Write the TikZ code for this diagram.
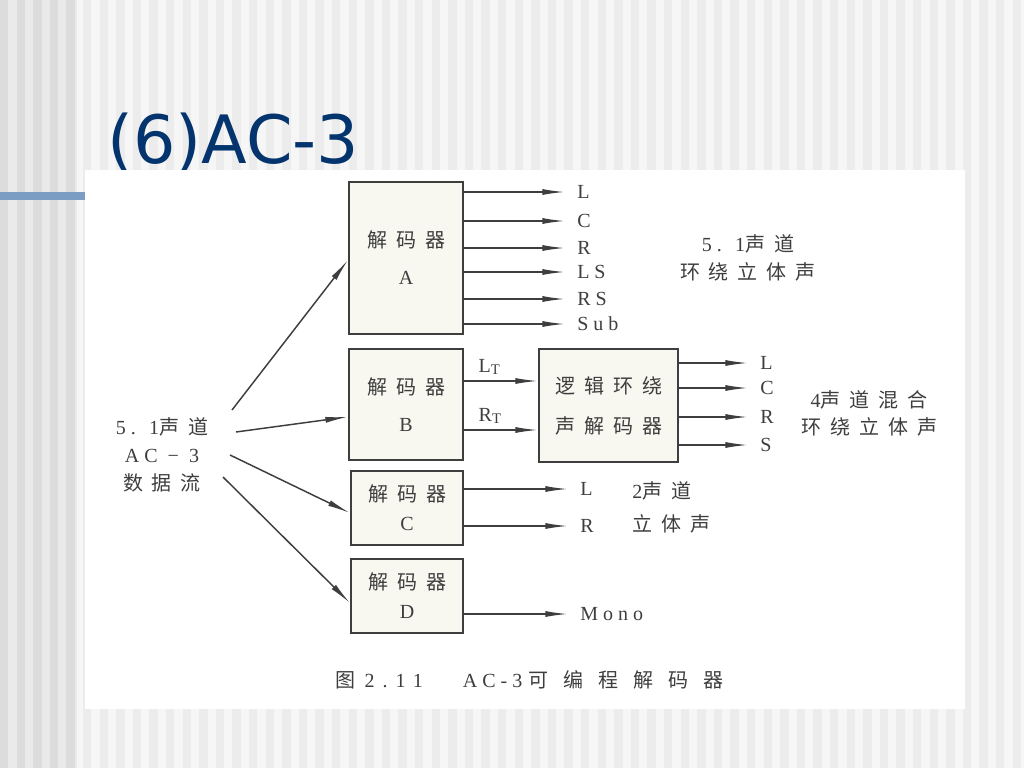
\documentclass[tikz,border=0pt]{standalone}
\usepackage{fontspec}
\usepackage{xcolor}
\usetikzlibrary{arrows.meta,calc}
\setmainfont{Liberation Serif}
\newfontfamily\lat[LetterSpace=25]{Liberation Serif}
\newfontfamily\capl[LetterSpace=40]{Liberation Serif}
\newfontfamily\cjk[LetterSpace=45]{Noto Sans CJK SC}
\newfontfamily\capc[LetterSpace=75]{Noto Sans CJK SC}
\newfontfamily\ttl{DejaVu Sans}
\definecolor{slideblue}{RGB}{4,52,110}
\definecolor{barblue}{RGB}{123,156,195}
\definecolor{ink}{RGB}{62,62,62}
\definecolor{paper}{RGB}{248,247,240}
\definecolor{stripeA}{RGB}{246,246,246}
\definecolor{stripeB}{RGB}{236,236,236}
\definecolor{stripeC}{RGB}{234,234,234}
\definecolor{stripeD}{RGB}{220,220,220}
\tikzset{
  decbox/.style={draw=ink, line width=1.5pt, fill=paper, text=ink, align=center, inner sep=0pt},
  arr/.style={draw=ink, line width=1.1pt, -{Latex[length=17pt,width=4.5pt]}},
  outlbl/.style={anchor=west, inner xsep=9pt, inner ysep=0pt, text=ink, text height=10pt, text depth=0pt, font=\lat\fontsize{15}{17}\selectfont},
  note/.style={text=ink, align=center, inner sep=0pt},
}

\begin{document}
\begin{tikzpicture}[x=0.75pt, y=-0.75pt]
            \useasboundingbox (0,0) rectangle (1024,768);
            % slide background
            \fill[stripeA] (0,0) rectangle (1024,768);
            \foreach \i in {5,...,61} \fill[stripeB] (\i*16.6,0) rectangle ++(8.3,768);
            \fill[stripeC] (0,0) rectangle (77,768);
            \foreach \i in {0,...,4} \fill[stripeD] (\i*16.6,0) rectangle ++(8.3,768);
            \fill[barblue] (0,192) rectangle (85,200);
            \node[anchor=base west, inner sep=0pt, text=slideblue, font=\ttl\fontsize{50}{52}\selectfont] (title) at (107,163) {(6)AC-3};
            \fill[white] (85,170) rectangle (965,709);

            % decoders
            \node[decbox, minimum width=85.5pt, minimum height=114pt, font=\cjk\fontsize{15}{27.75}\selectfont] (decA) at (406,258) {解码器\\{\lat A}};
            \node[decbox, minimum width=85.5pt, minimum height=83.25pt, font=\cjk\fontsize{15}{27.75}\selectfont] (decB) at (406,404.5) {解码器\\{\lat B}};
            \node[decbox, minimum width=84pt, minimum height=55.5pt, font=\cjk\fontsize{15}{21.75}\selectfont] (decC) at (407,508) {解码器\\{\lat C}};
            \node[decbox, minimum width=84pt, minimum height=55.5pt, font=\cjk\fontsize{15}{21.75}\selectfont] (decD) at (407,596) {解码器\\{\lat D}};
            \node[decbox, minimum width=104.25pt, minimum height=84.75pt, font=\cjk\fontsize{15}{30}\selectfont] (logic) at (608.5,405.5) {逻辑环绕\\声解码器};

            % input stream
            \node[note, font=\cjk\fontsize{15}{21}\selectfont] (src) at (162,455) {{\lat 5. 1}声道\\{\lat AC − 3}\\数据流};
            \coordinate (inA) at (232,410);
            \coordinate (inB) at (236,432);
            \coordinate (inC) at (230,455);
            \coordinate (inD) at (223,477);
            \draw[arr] (inA) -- (decA.182);
            \draw[arr] (inB) -- (decB.192);
            \draw[arr] (inC) -- (decC.185);
            \draw[arr] (inD) -- (decD.187);

            % decoder A outputs
            \node[outlbl] (aL) at (565,192) {L};
            \node[outlbl] (aC) at (565,221) {C};
            \node[outlbl] (aR) at (565,248) {R};
            \node[outlbl] (aLS) at (565,272) {LS};
            \node[outlbl] (aRS) at (565,299) {RS};
            \node[outlbl] (aSub) at (565,324) {Sub};
            \draw[arr] (decA.east |- aL) -- (aL);
            \draw[arr] (decA.east |- aC) -- (aC);
            \draw[arr] (decA.east |- aR) -- (aR);
            \draw[arr] (decA.east |- aLS) -- (aLS);
            \draw[arr] (decA.east |- aRS) -- (aRS);
            \draw[arr] (decA.east |- aSub) -- (aSub);
            \node[note, font=\cjk\fontsize{15}{21}\selectfont] (surA) at (748,258) {{\lat 5. 1}声道\\环绕立体声};

            % decoder B to logic decoder
            \coordinate (lt) at ($(decB.east)+(0,-23.5)$);
            \coordinate (rt) at ($(decB.east)+(0,25.5)$);
            \draw[arr] (lt) -- node[pos=0, anchor=south west, inner xsep=10.5pt, inner ysep=4pt, text=ink, font=\lat\fontsize{15}{17}\selectfont] {L\raisebox{-2pt}{\fontsize{11}{11}\selectfont T}} (logic.west |- lt);
            \draw[arr] (rt) -- node[pos=0, anchor=south west, inner xsep=10.5pt, inner ysep=4pt, text=ink, font=\lat\fontsize{15}{17}\selectfont] {R\raisebox{-2pt}{\fontsize{11}{11}\selectfont T}} (logic.west |- rt);

            % logic decoder outputs
            \node[outlbl] (bL) at (748,363) {L};
            \node[outlbl] (bC) at (748,388) {C};
            \node[outlbl] (bR) at (748,417) {R};
            \node[outlbl] (bS) at (748,445) {S};
            \draw[arr] (logic.east |- bL) -- (bL);
            \draw[arr] (logic.east |- bC) -- (bC);
            \draw[arr] (logic.east |- bR) -- (bR);
            \draw[arr] (logic.east |- bS) -- (bS);
            \node[note, font=\cjk\fontsize{15}{20.25}\selectfont] (surB) at (869,413) {{\lat 4}声道混合\\环绕立体声};

            % decoder C outputs
            \node[outlbl] (cL) at (568,489) {L};
            \node[outlbl] (cR) at (568,526) {R};
            \draw[arr] (decC.east |- cL) -- (cL);
            \draw[arr] (decC.east |- cR) -- (cR);
            \node[note, anchor=west, align=left, font=\cjk\fontsize{15}{24.75}\selectfont] (stereo) at (632,507.5) {{\lat 2}声道\\立体声};

            % decoder D output
            \node[outlbl] (dMono) at (568,614) {Mono};
            \draw[arr] (decD.east |- dMono) -- (dMono);

            % caption
            \node[note, anchor=west, font=\cjk\fontsize{15}{18}\selectfont] (cap) at (335,680) {图\hspace{7pt}{\capl 2.}\hspace{6pt}{\capl 11}\hspace{30pt}{\lat AC-3}\hspace{5pt}{\capc 可编程解码器}};
        \end{tikzpicture}
\end{document}
